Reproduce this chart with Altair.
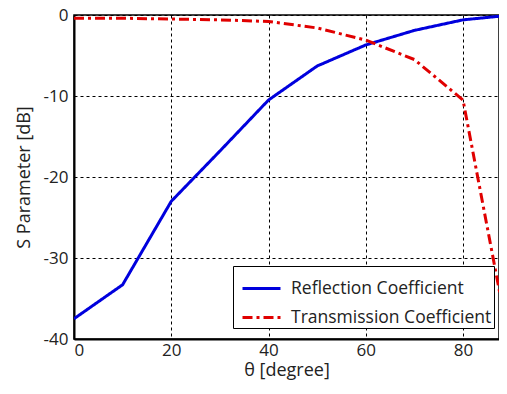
import altair as alt
import pandas as pd

theta = [0, 10, 20, 30, 40, 50, 60, 70, 80, 90]
reflection = [-37.5, -33.3, -23.0, -16.8, -10.5, -6.3, -3.7, -1.9, -0.6, 0.0]
transmission = [-0.4, -0.4, -0.5, -0.6, -0.8, -1.6, -3.1, -5.5, -10.5, -42.0]
series_names = ["Reflection Coefficient", "Transmission Coefficient"]
x_ticks = [0, 20, 40, 60, 80]
y_ticks = [0, -10, -20, -30, -40]

rows = []
for t, r in zip(theta, reflection):
    rows.append({"theta": t, "value": r, "series": series_names[0]})
for t, v in zip(theta, transmission):
    rows.append({"theta": t, "value": v, "series": series_names[1]})
df = pd.DataFrame(rows)

FONT = "Open Sans"

chart = alt.Chart(df).mark_line(strokeWidth=3, clip=True).encode(
    x=alt.X("theta:Q", scale=alt.Scale(domain=[0, 87.4], nice=False, zero=False),
            axis=alt.Axis(values=x_ticks, title="θ [degree]", grid=True,
                          labelExpr="'' + datum.value")),
    y=alt.Y("value:Q", scale=alt.Scale(domain=[-40, 0], nice=False),
            axis=alt.Axis(values=y_ticks, title="S Parameter [dB]", grid=True,
                          labelExpr="'' + datum.value")),
    color=alt.Color("series:N", scale=alt.Scale(domain=series_names, range=["#0000dd", "#e00000"]),
                    legend=alt.Legend(title=None, orient="none", legendX=159, legendY=251,
                                      symbolType="stroke", symbolSize=1444, symbolStrokeWidth=3,
                                      symbolOffset=6,
                                      labelFontSize=17.5, labelFont=FONT, labelColor="#222",
                                      strokeColor="black", fillColor="white", padding=2,
                                      rowPadding=-8, labelLimit=400, labelOffset=9)),
    strokeDash=alt.StrokeDash("series:N", scale=alt.Scale(domain=series_names, range=[[1, 0], [10, 4, 3, 4]]),
                              legend=None),
).properties(
    width=425, height=324,
    autosize=alt.AutoSizeParams(type="none"),
    padding={"left": 66, "top": 7, "right": 0, "bottom": 47},
).configure_view(
    stroke="black", strokeWidth=1.5
).configure_axis(
    gridColor="black", gridDash=[3, 3], gridOpacity=1, gridWidth=1,
    domainColor="black", domainWidth=2, ticks=False,
    labelFont=FONT, labelFontSize=17, labelColor="#222", labelPadding=6,
    titleFont=FONT, titleFontSize=18, titleFontWeight="normal", titleColor="#222",
).configure_axisX(titlePadding=3, labelPadding=3).configure_axisY(titlePadding=10)

chart.save("out.html", embed_options={"renderer": "svg", "actions": False})
